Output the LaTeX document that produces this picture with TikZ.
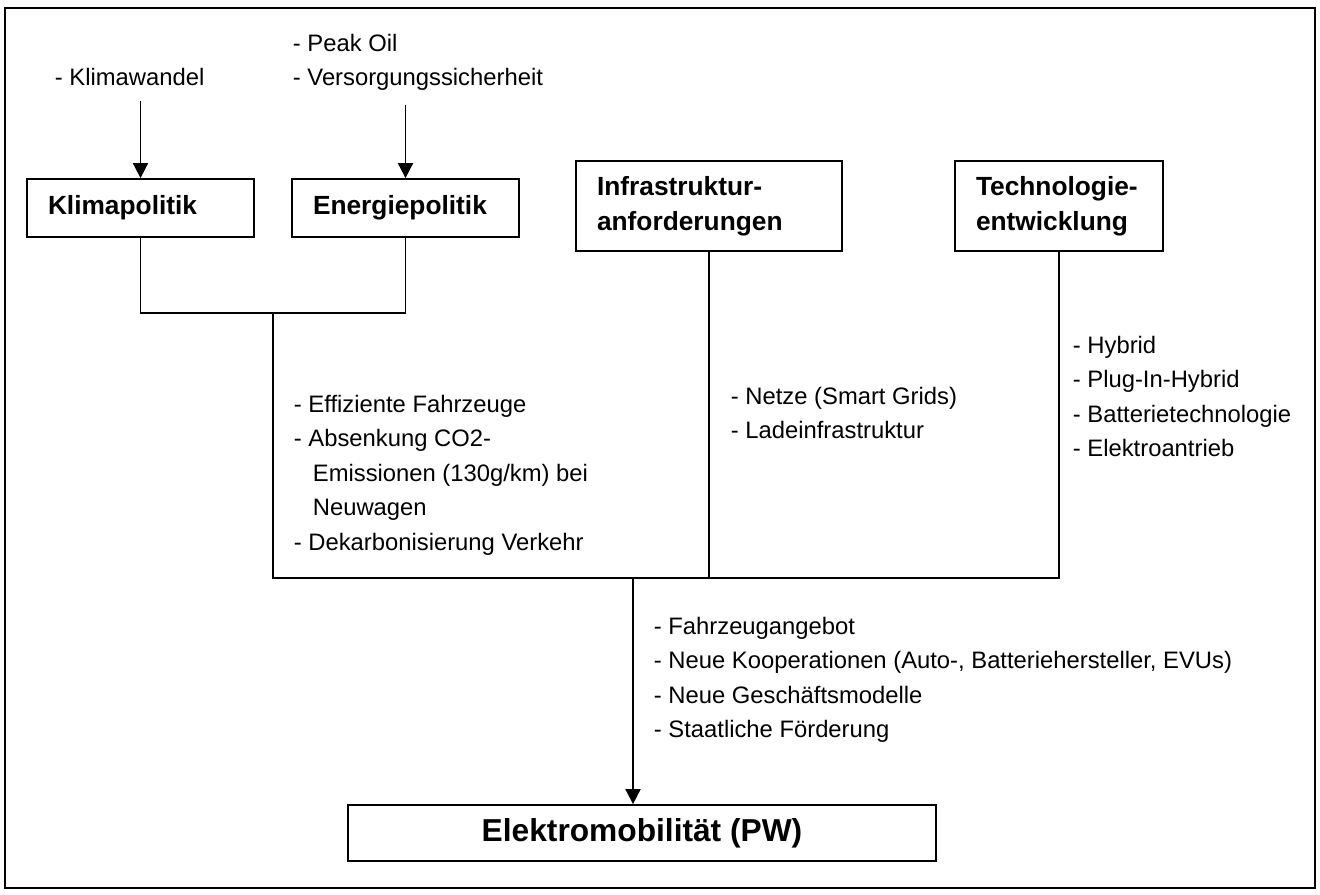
\documentclass[tikz,border=0pt]{standalone}
\usepackage{fontspec}
\setmainfont{Liberation Sans}
\usetikzlibrary{arrows.meta,positioning}

\begin{document}
\begin{tikzpicture}[x=0.5pt, y=-0.5pt, >={Triangle[width=7.5pt,length=7.5pt]}, line width=0.9pt]
  \tikzstyle{box}=[draw, line width=0.9pt, inner xsep=10.5pt, align=left, font=\fontsize{13.15}{17.5}\selectfont\bfseries]
  \tikzstyle{note}=[inner sep=0pt, anchor=north west, align=left, font=\fontsize{11.9}{17.25}\selectfont]
  \tikzstyle{goal}=[draw, line width=0.9pt, minimum width=294pt, minimum height=28pt, font=\fontsize{15.85}{19}\selectfont\bfseries]

  \useasboundingbox (0,0) rectangle (1320,894);
  \draw[line width=1.1pt] (5,8) rectangle (1315,888);

  % ------- boxes -------
  \node[box, text width=92.5pt, minimum height=29pt] (klima)   at (140.5,208) {Klimapolitik};
  \node[box, text width=92.5pt, minimum height=29pt] (energie) at (405.5,208) {Energiepolitik};
  \node[box, text width=112pt, minimum height=45pt]  (infra)   at (709,206)   {Infrastruktur-\\anforderungen};
  \node[box, text width=83pt, minimum height=45pt]   (techno)  at (1059,206)  {Technologie-\\entwicklung};
  \node[goal] (emob) at (642,833) {Elektromobilität (PW)};

  % ------- notes -------
  \node[note] (wandel)  at (54,67.5)  {- Klimawandel};
  \node[note] (peak)    at (292,33)   {- Peak Oil\\- Versorgungssicherheit};
  \node[note] (effiz)   at (293,394)  {- Effiziente Fahrzeuge\\- Absenkung CO2-\\\hspace*{9.5pt}Emissionen (130g/km) bei\\\hspace*{9.5pt}Neuwagen\\- Dekarbonisierung Verkehr};
  \node[note] (netze)   at (730,386)  {- Netze (Smart Grids)\\- Ladeinfrastruktur};
  \node[note] (hybrid)  at (1072,335) {- Hybrid\\- Plug-In-Hybrid\\- Batterietechnologie\\- Elektroantrieb};
  \node[note] (angebot) at (653,616)  {- Fahrzeugangebot\\- Neue Kooperationen (Auto-, Batteriehersteller, EVUs)\\- Neue Geschäftsmodelle\\- Staatliche Förderung};

  % junction points
  \coordinate (polJoin) at (273,313);
  \coordinate (busL)    at (273,578);
  \coordinate (busM)    at (633,578);

  % ------- arrows -------
  \draw[->, shorten <=7pt] (wandel.south -| klima.north) -- (klima.north);
  \draw[->, shorten <=7pt] (peak.south -| energie.north) -- (energie.north);

  \draw (klima.south) |- (polJoin) -| (energie.south);
  \draw (polJoin) -- (busL) -| (techno.south);
  \draw (infra.south) -- (infra.south |- busL);
  \draw[->] (busM) -- (busM |- emob.north);
\end{tikzpicture}
\end{document}
